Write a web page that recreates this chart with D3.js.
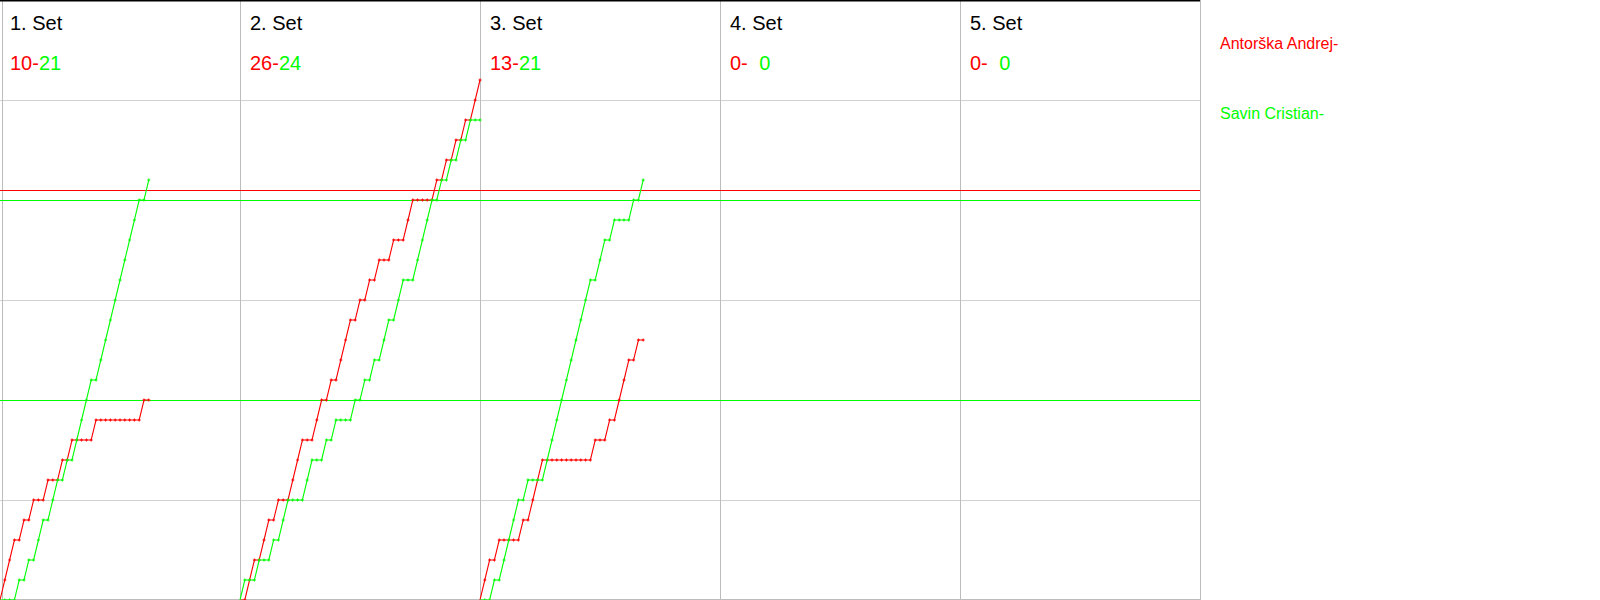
<!DOCTYPE html>
<html>
<head>
<meta charset="utf-8">
<script src="https://cdn.jsdelivr.net/npm/d3@7"></script>
<style>
  html, body { margin: 0; padding: 0; background: #fff; }
  svg { display: block; }
  text { font-family: "Liberation Sans", Arial, sans-serif; }
</style>
</head>
<body>
<svg id="chart" width="1600" height="600"></svg>
<script>
// ---------------- DATA ----------------
const playerNames = ["Antorška Andrej", "Savin Cristian"];
const setLabels = ["1. Set", "2. Set", "3. Set", "4. Set", "5. Set"];
// rally winners per set: "A" = Antorška Andrej (red), "B" = Savin Cristian (green)
const set1Winners = ["A","A","A","B","A","B","A","B","B","A","B","B","A","B","A","B","B","B","B","A",
                     "B","B","B","B","B","B","B","B","B","A","B"];
const set2Winners = ["B","A","A","B","A","A","B","A","B","B","A","A","A","B","B","A","A","B","A","B",
                     "A","A","A","B","A","B","A","B","A","B","B","A","B","B","A","A","B","B","B","B",
                     "A","B","A","B","A","B","A","B","A","A"];
const set3Winners = ["A","A","B","A","B","B","B","B","A","B","A","A","A","B","B","B","B","B","B","B",
                     "B","B","B","A","B","B","A","B","A","A","A","B","A","B"];
const set4Winners = [];
const set5Winners = [];
const refValuesA = [20.5];
const refValuesB = [20, 10];
const gridScores = [5, 10, 15, 20, 25];

// ---------------- LAYOUT ----------------
const allSets = [set1Winners, set2Winners, set3Winners, set4Winners, set5Winners];
const colorA = "#ff0000", colorB = "#00ff00";
const svg = d3.select("#chart");
svg.append("rect").attr("width", 1600).attr("height", 600).attr("fill", "#fff");

const panelX = d3.scaleLinear().domain([0, 5]).range([0, 1200]);
const rallyX = d3.scaleLinear().domain([0, 50]).range([0, 240]);
const y = d3.scaleLinear().domain([0, 30]).range([600, 0]);

// horizontal grid
svg.append("g").selectAll("line").data(gridScores).join("line")
  .attr("x1", 0).attr("x2", 1200)
  .attr("y1", d => y(d) + 0.5).attr("y2", d => y(d) + 0.5)
  .attr("stroke", "#d2d2d2").attr("stroke-width", 1).attr("shape-rendering", "crispEdges");

// vertical panel separators
svg.append("g").selectAll("line").data(d3.range(1, 6)).join("line")
  .attr("x1", d => panelX(d) + 0.5).attr("x2", d => panelX(d) + 0.5)
  .attr("y1", 0).attr("y2", 600)
  .attr("stroke", "#bcbcbc").attr("stroke-width", 1).attr("shape-rendering", "crispEdges");
// left border
svg.append("line").attr("x1", 2.5).attr("x2", 2.5).attr("y1", 0).attr("y2", 600)
  .attr("stroke", "#bcbcbc").attr("stroke-width", 1).attr("shape-rendering", "crispEdges");
// bottom border
svg.append("line").attr("x1", 0).attr("x2", 1200).attr("y1", 599.5).attr("y2", 599.5)
  .attr("stroke", "#bcbcbc").attr("stroke-width", 1).attr("shape-rendering", "crispEdges");
// top border
svg.append("line").attr("x1", 0).attr("x2", 1200).attr("y1", 0.75).attr("y2", 0.75)
  .attr("stroke", "#000").attr("stroke-width", 1.5);

// reference lines
const refs = refValuesA.map(v => ({v, c: colorA})).concat(refValuesB.map(v => ({v, c: colorB})));
svg.append("g").selectAll("line").data(refs).join("line")
  .attr("x1", 0).attr("x2", 1200)
  .attr("y1", d => Math.round(y(d.v)) + 0.5).attr("y2", d => Math.round(y(d.v)) + 0.5)
  .attr("stroke", d => d.c).attr("stroke-width", 1).attr("shape-rendering", "crispEdges");

// cumulative series
function cumulative(winners, who) {
  let s = 0;
  const pts = [{i: 0, s: 0}];
  winners.forEach((w, k) => { if (w === who) s++; pts.push({i: k + 1, s}); });
  return pts;
}

const line = d3.line().x(d => d.x).y(d => d.y);

allSets.forEach((winners, si) => {
  const g = svg.append("g").attr("transform", `translate(${panelX(si)},0)`);
  const ptsA = cumulative(winners, "A");
  const ptsB = cumulative(winners, "B");
  const scoreA = ptsA[ptsA.length - 1].s, scoreB = ptsB[ptsB.length - 1].s;

  // title
  g.append("text").attr("x", 10).attr("y", 30).attr("font-size", 20).attr("fill", "#000")
    .text(setLabels[si]);
  const t = g.append("text").attr("x", 10).attr("y", 70).attr("font-size", 20);
  t.append("tspan").attr("fill", colorA).text(`${scoreA}-`);
  t.append("tspan").attr("fill", colorB).attr("dx", String(scoreB).length < 2 ? 11.5 : 0).text(`${scoreB}`);

  if (winners.length === 0) return;
  [[ptsA, colorA], [ptsB, colorB]].forEach(([pts, c]) => {
    const xy = pts.map(d => ({x: rallyX(d.i), y: y(d.s)}));
    g.append("path").attr("d", line(xy)).attr("fill", "none")
      .attr("stroke", c).attr("stroke-width", 1.1);
    g.append("g").selectAll("path").data(xy.slice(1)).join("path")
      .attr("d", d => `M${d.x - 0.5},${d.y - 1.5}h1v3h-1z M${d.x - 1.5},${d.y - 0.5}h3v1h-3z`)
      .attr("fill", c);
  });
});

// legend
svg.append("text").attr("x", 1220).attr("y", 49).attr("font-size", 16).attr("fill", colorA)
  .text(playerNames[0] + "-");
svg.append("text").attr("x", 1220).attr("y", 119).attr("font-size", 16).attr("fill", colorB)
  .text(playerNames[1] + "-");
</script>
</body>
</html>
